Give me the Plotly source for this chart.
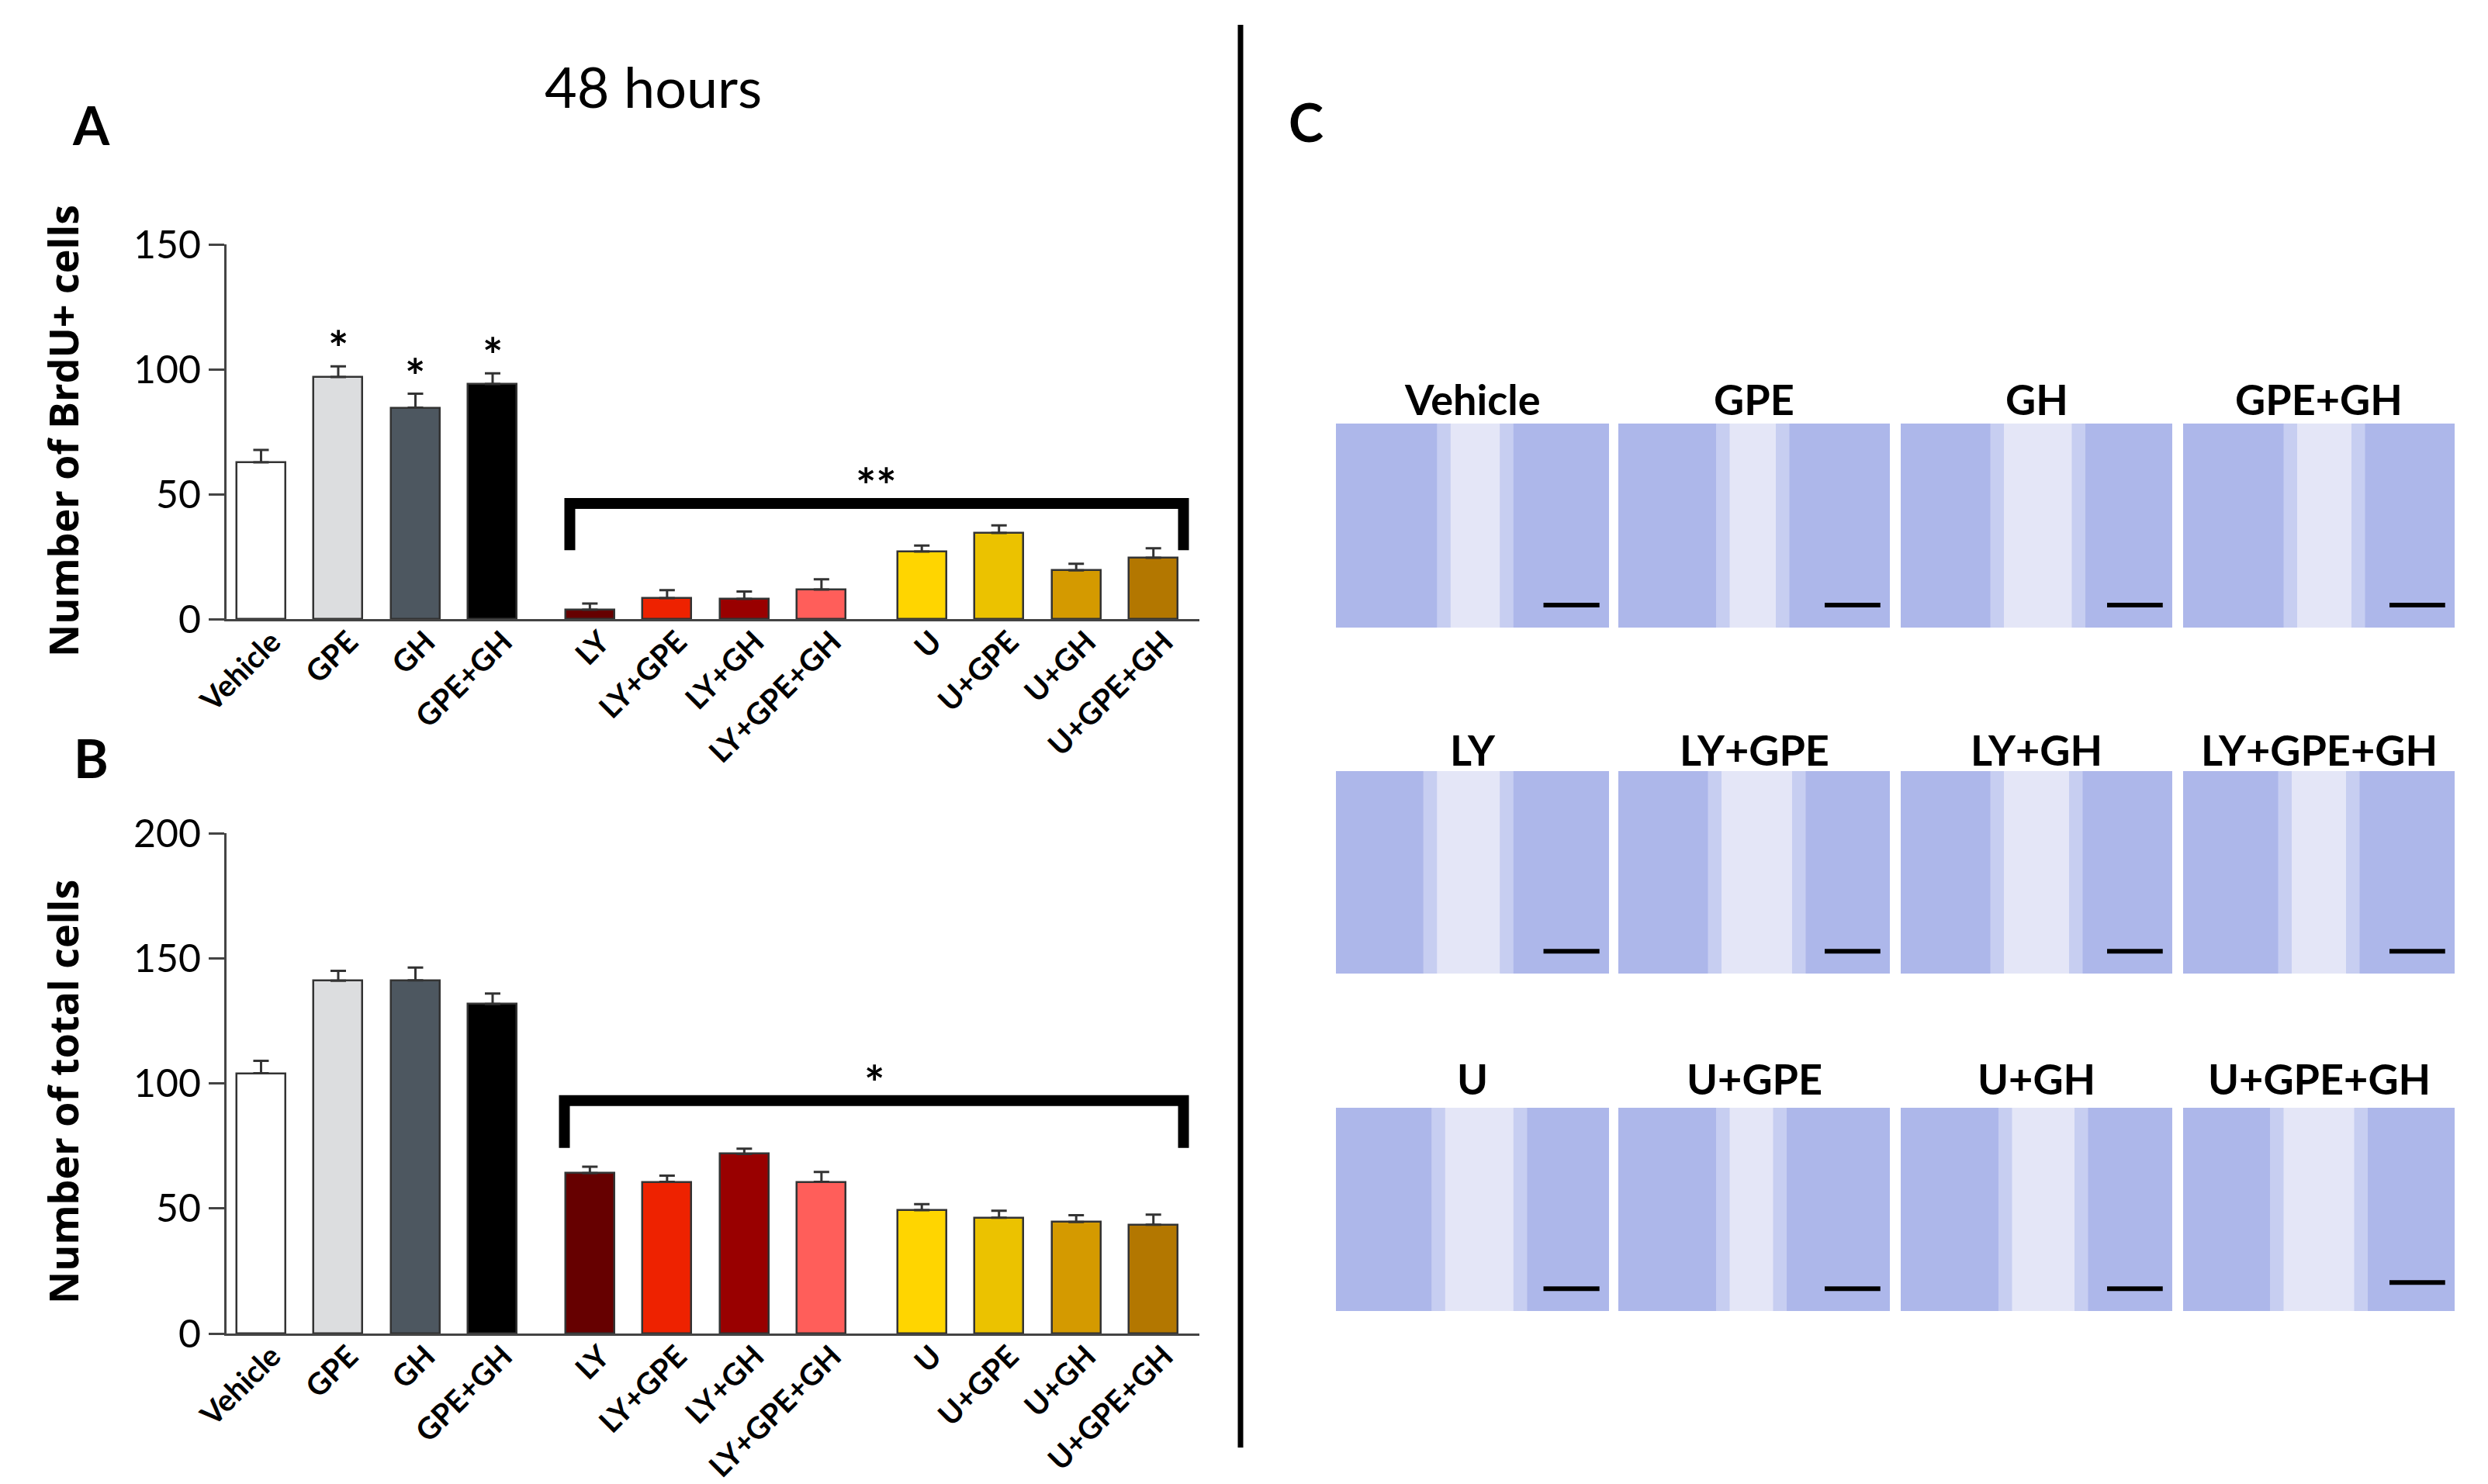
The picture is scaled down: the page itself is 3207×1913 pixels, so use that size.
import plotly.graph_objects as go

W, H = 3207, 1913

groups = ["Vehicle", "GPE", "GH", "GPE+GH",
          "LY", "LY+GPE", "LY+GH", "LY+GPE+GH",
          "U", "U+GPE", "U+GH", "U+GPE+GH"]
bar_colors = ["#FFFFFF", "#DCDDDF", "#4D5760", "#000000",
              "#660000", "#EE2200", "#990000", "#FF5E5A",
              "#FFD500", "#EBC200", "#D49A00", "#B37700"]

# panel A: BrdU+ cells (mean, upper SEM)
brdu_mean = [62.7, 96.9, 84.6, 94.1, 3.7, 8.4, 8.1, 11.8, 27.0, 34.5, 19.5, 24.5]
brdu_sem = [5.0, 4.3, 5.6, 4.3, 2.5, 3.2, 2.9, 4.1, 2.4, 3.0, 2.6, 3.8]
brdu_sig = ["", "*", "*", "*", "", "", "", "", "", "", "", ""]

# panel B: total cells
total_mean = [104.0, 141.0, 141.2, 131.7, 64.1, 60.6, 71.8, 60.6, 49.3, 46.3, 44.6, 43.5]
total_sem = [5.0, 4.0, 5.1, 4.2, 2.6, 2.5, 2.1, 4.0, 2.4, 2.8, 2.7, 4.0]

yticks_a = [0, 50, 100, 150]
yticks_b = [0, 50, 100, 150, 200]

# panel C: micrograph grid
c_labels = [["Vehicle", "GPE", "GH", "GPE+GH"],
            ["LY", "LY+GPE", "LY+GH", "LY+GPE+GH"],
            ["U", "U+GPE", "U+GH", "U+GPE+GH"]]
# wound gap (left, right) as fraction of the tile width
c_gaps = [[(0.42, 0.60), (0.41, 0.58), (0.38, 0.63), (0.42, 0.62)],
          [(0.37, 0.60), (0.38, 0.64), (0.38, 0.62), (0.40, 0.60)],
          [(0.40, 0.65), (0.41, 0.57), (0.41, 0.64), (0.37, 0.63)]]

group_offset = [0, 0.26, 0.56]
pos = [i + group_offset[i // 4] for i in range(len(groups))]


def px(x):
    return x / W


def py(y):
    return 1 - y / H


fig = go.Figure()

for mean, sem, ax, ay in [(brdu_mean, brdu_sem, "x", "y"),
                          (total_mean, total_sem, "x2", "y2")]:
    fig.add_trace(go.Bar(
        x=pos, y=mean, width=0.633,
        marker=dict(color=bar_colors, line=dict(color="#333333", width=2.5)),
        error_y=dict(type="data", symmetric=False, array=sem,
                     arrayminus=[0] * len(sem), color="#333333",
                     thickness=3, width=10),
        xaxis=ax, yaxis=ay, showlegend=False, hoverinfo="skip"))

xaxis_style = dict(range=[-0.447, 12.156], tickvals=pos, ticktext=groups,
                   tickangle=-45, ticks="", showline=True, linecolor="#444444",
                   linewidth=3, showgrid=False, zeroline=False, automargin=False,
                   ticklabelshift=14, ticklabelstandoff=-12,
                   tickfont=dict(family="Lato", size=39, color="black", weight="bold"))
yaxis_style = dict(ticks="outside", ticklen=20, tickwidth=3, tickcolor="#444444",
                   showline=True, linecolor="#444444", linewidth=3,
                   showgrid=False, zeroline=False, automargin=False,
                   tickfont=dict(family="Lato", size=50, color="black"))

fig.update_layout(
    width=W, height=H, margin=dict(l=0, r=0, t=0, b=0, autoexpand=False),
    paper_bgcolor="white", plot_bgcolor="white", bargap=0,
    xaxis=dict(domain=[px(292), px(1546)], anchor="y", **xaxis_style),
    yaxis=dict(domain=[py(798), py(315)], range=[0, 150], tickvals=yticks_a,
               anchor="x", **yaxis_style),
    xaxis2=dict(domain=[px(292), px(1546)], anchor="y2", **xaxis_style),
    yaxis2=dict(domain=[py(1719), py(1074)], range=[0, 200], tickvals=yticks_b,
                anchor="x2", **yaxis_style),
)

ann = []
shapes = []

# significance stars above single bars
for p, m, s, t in zip(pos, brdu_mean, brdu_sem, brdu_sig):
    if t:
        ann.append(dict(x=p, y=m + s, xref="x", yref="y", text=t, showarrow=False,
                        yanchor="middle", yshift=24,
                        font=dict(family="Lato", size=62, color="black", weight="bold")))

# brackets over the inhibitor groups
for ax, ay, left, right, level, leg, star in [
        ("x", "y", pos[4] - 0.26, pos[-1] + 0.39, 46.3, 27.6, "**"),
        ("x2", "y2", pos[4] - 0.33, pos[-1] + 0.39, 93.1, 74.2, "*")]:
    shapes.append(dict(type="path", xref=ax, yref=ay,
                       path=f"M {left},{leg} L {left},{level} L {right},{level} L {right},{leg}",
                       line=dict(color="black", width=14)))
    ann.append(dict(x=(left + right) / 2, y=level, xref=ax, yref=ay, text=star,
                    showarrow=False, yanchor="middle", yshift=24,
                    font=dict(family="Lato", size=62, color="black", weight="bold")))

# axis titles
for yc, txt in [(556, "Number of BrdU+ cells"), (1408, "Number of total cells")]:
    ann.append(dict(x=px(80), y=py(yc), xref="paper", yref="paper", text=txt,
                    textangle=-90, showarrow=False, xanchor="center", yanchor="middle",
                    font=dict(family="Open Sans", size=52, color="black", weight="bold")))

# panel letters and heading
for xc, yc, txt in [(117, 160, "A"), (117, 976, "B"), (1683, 157, "C")]:
    ann.append(dict(x=px(xc), y=py(yc), xref="paper", yref="paper", text=txt,
                    showarrow=False, xanchor="center", yanchor="middle",
                    font=dict(family="Lato", size=68, color="black", weight="bold")))
ann.append(dict(x=px(842), y=py(111), xref="paper", yref="paper", text="48 hours",
                showarrow=False, xanchor="center", yanchor="middle",
                font=dict(family="Lato", size=72, color="black")))

# divider between the bar charts and the micrographs
shapes.append(dict(type="line", xref="paper", yref="paper",
                   x0=px(1599), x1=px(1599), y0=py(32), y1=py(1866),
                   line=dict(color="black", width=7)))

# micrograph tiles
tile_x = [(1722, 2074), (2086, 2436), (2450, 2800), (2814, 3164)]
tile_y = [(546, 809), (994, 1255), (1428, 1690)]
label_y = [514, 966, 1390]
for r, (y0, y1) in enumerate(tile_y):
    for c, (x0, x1) in enumerate(tile_x):
        w = x1 - x0
        gl, gr = c_gaps[r][c]
        shapes.append(dict(type="rect", xref="paper", yref="paper", layer="above",
                           x0=px(x0), x1=px(x1), y0=py(y1), y1=py(y0),
                           fillcolor="#ADB7EA", line=dict(width=0)))
        shapes.append(dict(type="rect", xref="paper", yref="paper", layer="above",
                           x0=px(x0 + w * (gl - 0.05)), x1=px(x0 + w * (gr + 0.05)),
                           y0=py(y1), y1=py(y0),
                           fillcolor="#C7CEF1", line=dict(width=0)))
        shapes.append(dict(type="rect", xref="paper", yref="paper", layer="above",
                           x0=px(x0 + w * gl), x1=px(x0 + w * gr),
                           y0=py(y1), y1=py(y0),
                           fillcolor="#E4E6F7", line=dict(width=0)))
        bar_y = y0 + (y1 - y0) * (0.86 if (r, c) == (2, 3) else 0.89)
        shapes.append(dict(type="line", xref="paper", yref="paper", layer="above",
                           x0=px(x0 + w * 0.76), x1=px(x0 + w * 0.965),
                           y0=py(bar_y), y1=py(bar_y),
                           line=dict(color="black", width=6)))
        ann.append(dict(x=px((x0 + x1) / 2), y=py(label_y[r]), xref="paper", yref="paper",
                        text=c_labels[r][c], showarrow=False,
                        xanchor="center", yanchor="middle",
                        font=dict(family="Lato", size=54, color="black", weight="bold")))

fig.update_layout(annotations=ann, shapes=shapes)

fig.write_html("out.html", post_script="document.body.style.margin='0';",
               config={"displayModeBar": False})
